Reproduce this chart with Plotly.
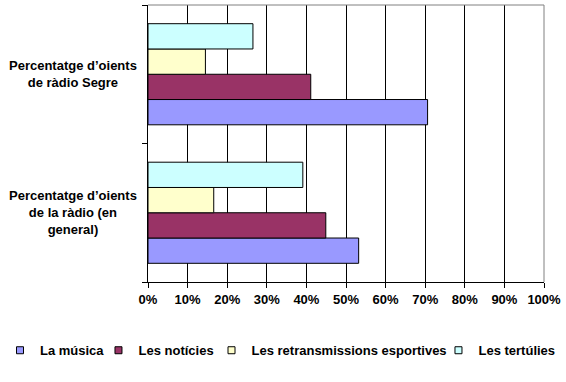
import plotly.graph_objects as go

categories = ["Percentatge d’oients de la ràdio (en general)", "Percentatge d’oients de ràdio Segre"]
category_labels = ["Percentatge d’oients<br>de la ràdio (en<br>general)", "Percentatge d’oients<br>de ràdio Segre"]
series_names = ["La música", "Les notícies", "Les retransmissions esportives", "Les tertúlies"]
musica = [53.2, 70.6]
noticies = [44.9, 41.1]
retransmissions = [16.6, 14.5]
tertulies = [39.1, 26.5]
colors = ["#9999FF", "#993366", "#FFFFCC", "#CCFFFF"]
x_ticks = [0, 10, 20, 30, 40, 50, 60, 70, 80, 90, 100]
x_tick_labels = [f"{v}%" for v in x_ticks]

values = [musica, noticies, retransmissions, tertulies]
FONT = dict(family="Arial, Liberation Sans, sans-serif", size=13, color="black", weight="bold")

fig = go.Figure()
for name, vals, col in zip(series_names, values, colors):
    fig.add_trace(go.Bar(
        y=categories, x=vals, orientation="h", name=name,
        marker=dict(color=col, line=dict(color="black", width=1)),
        showlegend=False, hoverinfo="skip",
    ))

# legend entries (small squares), one legend per entry for placement
legend_x = [-0.0044, 0.174, 0.3737, 0.7747]
for i, (name, col) in enumerate(zip(series_names, colors)):
    lg = "legend" if i == 0 else f"legend{i+1}"
    fig.add_trace(go.Scatter(
        x=[None], y=[None], mode="markers", name=name,
        marker=dict(symbol="square", size=7, color=col, line=dict(color="black", width=1)),
        showlegend=True, legend=lg, hoverinfo="skip",
    ))

legend_common = dict(xref="container", yref="container", y=0.083, yanchor="middle",
                     xanchor="left", orientation="h", font=FONT, bgcolor="rgba(0,0,0,0)",
                     borderwidth=0, itemwidth=30)
layout_legends = {}
for i in range(4):
    key = "legend" if i == 0 else f"legend{i+1}"
    layout_legends[key] = dict(legend_common, x=legend_x[i])

annotations = []
for cat, lab in zip(categories, category_labels):
    annotations.append(dict(
        x=-75 / 396, xref="paper", y=cat, yref="y", text=lab, showarrow=False,
        xanchor="center", yanchor="middle", align="center", font=FONT,
    ))

fig.update_layout(
    width=566, height=382,
    margin=dict(l=148, r=22, t=5, b=100),
    paper_bgcolor="white", plot_bgcolor="white",
    barmode="group", bargap=0.27, bargroupgap=0,
    font=FONT,
    annotations=annotations,
    shapes=[
        dict(type="line", xref="paper", yref="paper", x0=0, x1=1, y0=1, y1=1,
             line=dict(color="#808080", width=1), layer="above"),
        dict(type="line", xref="paper", yref="paper", x0=1, x1=1, y0=0, y1=1,
             line=dict(color="#808080", width=1), layer="above"),
    ],
    xaxis=dict(
        range=[0, 100], tickvals=x_ticks, ticktext=x_tick_labels,
        showgrid=True, gridcolor="black", gridwidth=1,
        showline=True, linecolor="black", linewidth=1,
        ticks="outside", ticklen=5, tickcolor="black",
        tickfont=FONT, zeroline=False, fixedrange=True,
    ),
    yaxis=dict(
        type="category", categoryorder="array", categoryarray=categories,
        range=[-0.5, 1.5], showticklabels=False, showgrid=False,
        showline=True, linecolor="black", linewidth=1,
        ticks="outside", tickson="boundaries", ticklen=5, tickcolor="black",
        zeroline=False, fixedrange=True,
    ),
    **layout_legends,
)

fig.write_html("out.html", config={"displayModeBar": False},
               post_script="document.body.style.margin='0';document.body.style.padding='0';")
